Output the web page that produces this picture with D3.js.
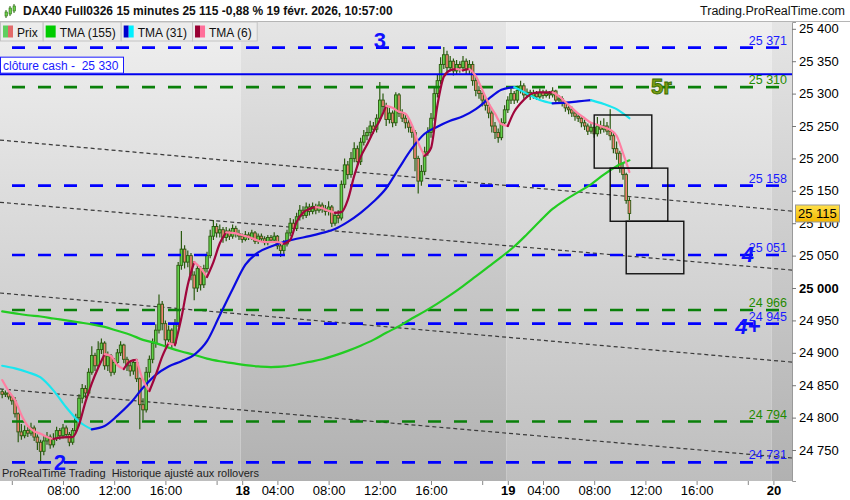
<!DOCTYPE html>
<html>
<head>
<meta charset="utf-8">
<script src="https://cdn.jsdelivr.net/npm/d3@7"></script>
<style>
  body { margin: 0; background: #fff; }
  svg { display: block; font-family: "Liberation Sans", Arial, sans-serif; }
  text { white-space: pre; }
</style>
</head>
<body>
<svg width="850" height="500"></svg>
<script>
// Sessions de 15 minutes (01:15 - 21:45), la 1re commence en cours de journée
const sessions = [
  {day: "17", from: "03:15", to: "21:45"},
  {day: "18", from: "01:15", to: "21:45"},
  {day: "19", from: "01:15", to: "21:45"},
  {day: "20", from: "01:15", to: "02:30"}
];

const firstOpen = 24840;
// clôtures, une par bougie depuis le 17 03:15
const closes = [
  24836,24838,24832,24826,24806,24778,24772,24780,24776,24784,
  24770,24762,24748,24764,24770,24758,24768,24780,24772,24784,
  24774,24762,24780,24800,24830,24845,24838,24870,24896,24880,
  24905,24915,24880,24895,24870,24885,24900,24912,24890,24880,
  24872,24885,24860,24820,24812,24870,24890,24915,24935,24975,
  24945,24920,24935,24915,24945,25035,25060,25040,25050,25020,
  25000,25030,25005,25030,25050,25080,25095,25085,25090,25078,
  25088,25080,25092,25084,25080,
  // 18
  25075,25082,25078,25085,25072,25080,25076,25070,25078,25074,
  25080,25065,25058,25068,25085,25100,25092,25110,25120,25112,
  25125,25118,25126,25120,25128,25122,25118,25125,25100,25112,
  25108,25160,25190,25175,25200,25215,25195,25225,25235,25240,
  25250,25245,25262,25290,25280,25260,25270,25255,25298,25270,
  25262,25255,25248,25240,25200,25165,25180,25210,25240,25262,
  25300,25320,25345,25360,25340,25350,25335,25345,25340,25350,
  25338,25345,25320,25305,25300,25290,25282,25270,25250,25240,
  25232,25255,25275,
  // 19
  25290,25300,25290,25305,25312,25298,25302,25296,25300,25295,
  25302,25297,25300,25298,25304,25290,25292,25285,25278,25275,
  25270,25265,25262,25255,25250,25242,25248,25238,25250,25245,
  25250,25242,25235,25215,25208,25185,25175,25135,25115
];
const highs = [
  24844,24842,24841,24834,24832,24808,24790,24788,24786,24792,
  24788,24774,24766,24772,24778,24774,24776,24786,24784,24790,
  24788,24778,24784,24806,24836,24852,24850,24876,24910,24900,
  24918,24922,24918,24902,24898,24892,24906,24918,24914,24894,
  24886,24890,24888,24862,24830,24878,24896,24922,24944,24990,
  24980,24950,24942,24938,24952,25040,25088,25066,25058,25054,
  25026,25036,25034,25036,25056,25090,25105,25100,25098,25094,
  25094,25092,25098,25096,25090,
  25084,25088,25086,25090,25088,25084,25084,25080,25082,25082,
  25086,25082,25068,25074,25090,25108,25106,25116,25128,25126,
  25132,25130,25132,25130,25134,25132,25128,25134,25128,25118,
  25120,25166,25200,25196,25210,25225,25220,25232,25244,25248,
  25258,25256,25268,25318,25300,25286,25278,25274,25302,25301,
  25276,25268,25262,25252,25244,25204,25190,25218,25248,25270,
  25310,25330,25356,25372,25366,25358,25354,25352,25350,25358,
  25354,25352,25350,25326,25312,25304,25296,25286,25274,25256,
  25246,25262,25282,
  25296,25308,25304,25312,25320,25316,25308,25306,25306,25304,
  25308,25306,25306,25304,25310,25306,25298,25296,25288,25282,
  25280,25274,25270,25266,25260,25254,25256,25252,25264,25258,
  25262,25256,25276,25240,25226,25212,25192,25178,25140
];
const lows = [
  24830,24832,24828,24820,24800,24762,24766,24768,24770,24772,
  24764,24750,24730,24742,24758,24752,24754,24764,24766,24768,
  24768,24756,24758,24776,24796,24822,24830,24834,24866,24872,
  24876,24898,24874,24872,24864,24866,24880,24895,24884,24872,
  24864,24866,24855,24782,24796,24808,24862,24884,24908,24930,
  24935,24910,24912,24906,24910,24940,25028,25030,25032,25012,
  24981,24994,24996,25000,25024,25046,25074,25078,25078,25070,
  25072,25074,25076,25078,25074,
  25070,25072,25074,25074,25068,25068,25072,25066,25066,25070,
  25070,25060,25048,25052,25064,25080,25086,25088,25104,25106,
  25108,25112,25114,25114,25116,25116,25112,25112,25094,25096,
  25100,25104,25154,25168,25170,25194,25188,25190,25220,25228,
  25234,25238,25240,25258,25272,25250,25254,25248,25250,25264,
  25256,25246,25240,25232,25180,25146,25158,25174,25204,25232,
  25258,25294,25314,25338,25332,25334,25328,25330,25332,25334,
  25330,25330,25312,25296,25292,25280,25274,25262,25240,25230,
  25224,25228,25250,
  25270,25284,25284,25286,25300,25292,25294,25290,25292,25290,
  25292,25292,25294,25292,25294,25286,25284,25280,25272,25268,
  25264,25258,25256,25248,25244,25236,25238,25232,25234,25238,
  25240,25236,25228,25208,25198,25178,25167,25130,25105
];

// moyennes mobiles (TMA155 et TMA31 toutes les 4 bougies, TMA6 toutes les 2)
const tma155 = [
  24964,24961,24958,24956,24953,24950,24947,24944,24940,24934,
  24928,24920,24915,24908,24902,24897,24891,24887,24884,24881,
  24879,24878,24879,24882,24886,24890,24896,24903,24911,24920,
  24931,24941,24953,24964,24976,24989,25003,25018,25033,25048,
  25064,25083,25103,25122,25136,25148,25160,25175,25188,25197
];
const tma31 = [
  24880,24876,24870,24862,24842,24816,24794,24782,24787,24803,
  24822,24846,24866,24879,24887,24897,24918,24958,24998,25036,
  25055,25064,25071,25076,25080,25085,25091,25102,25116,25133,
  25154,25185,25215,25238,25249,25258,25265,25276,25292,25306,
  25310,25300,25290,25285,25286,25288,25290,25284,25276,25262
];
const tma6 = [
  24858,24841,24827,24804,24787,24779,24775,24770,24767,24769,
  24770,24770,24789,24824,24853,24877,24898,24895,24881,24875,
  24887,24889,24858,24841,24866,24894,24915,24912,24954,25005,
  25040,25031,25017,25040,25069,25086,25085,25083,25080,25077,
  25073,25071,25071,25071,25068,25074,25102,25116,25122,25125,
  25123,25119,25116,25117,25136,25173,25202,25221,25241,25259,
  25281,25278,25272,25269,25252,25224,25204,25216,25282,25326,
  25336,25338,25336,25338,25327,25306,25285,25269,25253,25250,
  25272,25285,25295,25301,25302,25302,25302,25296,25287,25278,
  25269,25262,25255,25252,25248,25244,25235,25208,25179
];

// niveaux horizontaux
const levelValues = [25371, 25330, 25310, 25158, 25051, 24966, 24945, 24794, 24731];
const levelKinds  = ["blue", "cash", "green", "blue", "blue", "green", "blue", "green", "blue"];

// droites de tendance pointillées (début / fin)
const trendFrom = ["17 03:15", 25228, 25132, 24992, 24844];
const trendTo   = ["20 02:30", 25119, 25028, 24886, 24738];

// rectangles de projection
const boxFrom   = ["19 08:00", "19 09:15", "19 10:30"];
const boxTo     = ["19 12:30", "19 13:45", "19 15:00"];
const boxTop    = [25267, 25185, 25103];
const boxBottom = [25185, 25103, 25022];

// étiquettes de vagues
const waveText  = ["3", "5r", "4", "4+", "2"];
const waveTime  = ["18 12:00", "19 13:15", "19 20:00", "19 20:00", "17 07:45"];
const waveValue = [25371, 25299, 25040, 24929, 24719];

const yTicks = [24750, 24800, 24850, 24900, 24950, 25000, 25050, 25100, 25150, 25200, 25250, 25300, 25350, 25400];
const xTicks = ["17 04:00","17 08:00","17 12:00","17 16:00","17 20:00",
                "18 01:15","18 04:00","18 08:00","18 12:00","18 16:00","18 20:00",
                "19 01:15","19 04:00","19 08:00","19 12:00","19 16:00","19 20:00","20 01:15"];
const xTickLabels = ["","08:00","12:00","16:00","",
                     "18","04:00","08:00","12:00","16:00","",
                     "19","04:00","08:00","12:00","16:00","","20"];

const svg = d3.select("svg"),
      width = +svg.attr("width"),
      height = +svg.attr("height");

const plot = {left: 0, right: 792, top: 22, bottom: 481};

// liste des créneaux de 15 minutes
const slotKeys = [];
const sessionRange = [];
sessions.forEach(s => {
  let [h, m] = s.from.split(":").map(Number);
  const [eh, em] = s.to.split(":").map(Number);
  const start = slotKeys.length;
  while (h * 60 + m <= eh * 60 + em) {
    slotKeys.push(s.day + " " + String(h).padStart(2, "0") + ":" + String(m).padStart(2, "0"));
    m += 15;
    if (m >= 60) { m -= 60; h += 1; }
  }
  sessionRange.push([start, slotKeys.length - 1]);
});
const slotIndex = new Map(slotKeys.map((k, i) => [k, i]));

const x = d3.scaleLinear()
    .domain([-0.6875, slotKeys.length - 0.1875])
    .range([plot.left, plot.right]);
const y = d3.scaleLinear()
    .domain([24702.2, 25410.5])
    .range([plot.bottom, plot.top]);

const fmt = v => d3.format(",")(v).replace(/,/g, " ");

// dégradés de fond
const defs = svg.append("defs");
function grad(id, c1, c2) {
  const g = defs.append("linearGradient").attr("id", id)
      .attr("x1", 0).attr("y1", 0).attr("x2", 0).attr("y2", 1);
  g.append("stop").attr("offset", "0%").attr("stop-color", c1);
  g.append("stop").attr("offset", "100%").attr("stop-color", c2);
}
grad("bgLight", "#efefef", "#bebebe");
grad("bgDark", "#e5e5e5", "#b1b1b1");
grad("lastGrad", "#ffe04a", "#f2b600");

svg.append("rect").attr("width", width).attr("height", height).attr("fill", "#fff");

svg.append("clipPath").attr("id", "plotClip")
  .append("rect")
    .attr("x", plot.left).attr("y", plot.top)
    .attr("width", plot.right - plot.left).attr("height", plot.bottom - plot.top);

const chart = svg.append("g").attr("clip-path", "url(#plotClip)");

// fond par journée
chart.selectAll("rect.day")
  .data(sessionRange)
  .enter().append("rect")
    .attr("class", "day")
    .attr("x", (d, i) => i === 0 ? plot.left : x(d[0] - 0.5))
    .attr("y", plot.top)
    .attr("width", (d, i) => (i === sessionRange.length - 1 ? plot.right : x(d[1] + 0.5)) - (i === 0 ? plot.left : x(d[0] - 0.5)))
    .attr("height", plot.bottom - plot.top)
    .attr("fill", (d, i) => i % 2 ? "url(#bgDark)" : "url(#bgLight)");

// droites pointillées prolongées jusqu'aux bords
trendFrom.slice(1).forEach((v1, i) => {
  const i1 = slotIndex.get(trendFrom[0]), i2 = slotIndex.get(trendTo[0]);
  const v2 = trendTo[i + 1];
  const slope = (y(v2) - y(v1)) / (x(i2) - x(i1));
  chart.append("line")
    .attr("x1", plot.left).attr("y1", y(v1) + (plot.left - x(i1)) * slope)
    .attr("x2", plot.right).attr("y2", y(v1) + (plot.right - x(i1)) * slope)
    .attr("stroke", "#3a3a3a").attr("stroke-width", 1.2)
    .attr("stroke-dasharray", "4,3");
});

// bougies
const candles = closes.map((c, i) => ({
  i: i, o: i === 0 ? firstOpen : closes[i - 1], h: highs[i], l: lows[i], c: c
}));
const candleG = chart.append("g");
candleG.selectAll("line")
  .data(candles)
  .enter().append("line")
    .attr("x1", d => x(d.i)).attr("x2", d => x(d.i))
    .attr("y1", d => y(d.h)).attr("y2", d => y(d.l))
    .attr("stroke", "#2b5a10").attr("stroke-width", 1.2);
candleG.selectAll("rect")
  .data(candles)
  .enter().append("rect")
    .attr("x", d => x(d.i) - 1.3)
    .attr("width", 2.6)
    .attr("y", d => y(Math.max(d.o, d.c)))
    .attr("height", d => Math.max(1, Math.abs(y(d.o) - y(d.c))))
    .attr("fill", d => d.c >= d.o ? "#62d24a" : "#f08272")
    .attr("stroke", "#2b5a10").attr("stroke-width", 0.9);

// niveaux horizontaux
const levelColor = {blue: "#0000ff", cash: "#0000ee", green: "#0a800a"};
levelValues.forEach((v, i) => {
  const k = levelKinds[i];
  chart.append("line")
    .attr("x1", plot.left).attr("x2", plot.right)
    .attr("y1", y(v)).attr("y2", y(v))
    .attr("stroke", levelColor[k])
    .attr("stroke-width", k === "cash" ? 2 : 2.6)
    .attr("stroke-dasharray", k === "cash" ? null : "13,13")
    .attr("stroke-dashoffset", 14);
  if (k !== "cash") {
    svg.append("text")
      .attr("x", plot.right - 5).attr("y", y(v) - 3)
      .attr("text-anchor", "end")
      .attr("font-size", 12.5)
      .attr("fill", k === "green" ? "#1f8a00" : "#1a1aff")
      .text(fmt(v));
  }
});

// moyennes mobiles, couleur selon la pente
function drawTrend(values, step, upColor, downColor, w) {
  const dirs = [];
  for (let j = 0; j < values.length - 1; j++) {
    const d = values[j + 1] - values[j];
    dirs.push(d > 0 ? 1 : d < 0 ? -1 : (dirs.length ? dirs[dirs.length - 1] : 1));
  }
  const line = d3.line()
      .x(d => x(d[0] * step))
      .y(d => y(d[1]))
      .curve(d3.curveMonotoneX);
  let a = 0;
  for (let j = 1; j <= dirs.length; j++) {
    if (j === dirs.length || dirs[j] !== dirs[a]) {
      const pts = d3.range(a, j + 1).map(k => [k, values[k]]);
      chart.append("path")
        .attr("d", line(pts))
        .attr("fill", "none")
        .attr("stroke", dirs[a] > 0 ? upColor : downColor)
        .attr("stroke-width", w)
        .attr("stroke-linecap", "round");
      a = j;
    }
  }
}
drawTrend(tma155, 4, "#22cc22", "#22cc22", 2.2);
drawTrend(tma31, 4, "#0a0ae0", "#19e6ef", 2.2);
drawTrend(tma6, 2, "#a0063c", "#ff7fa2", 2.2);

// rectangles
boxFrom.forEach((t, i) => {
  const x1 = x(slotIndex.get(t)), x2 = x(slotIndex.get(boxTo[i]));
  chart.append("rect")
    .attr("x", x1).attr("y", y(boxTop[i]))
    .attr("width", x2 - x1).attr("height", y(boxBottom[i]) - y(boxTop[i]))
    .attr("fill", "none").attr("stroke", "#111").attr("stroke-width", 1.4);
});

// étiquettes de vagues
waveText.forEach((t, i) => {
  const isR = t === "5r";
  chart.append("text")
    .attr("x", x(slotIndex.get(waveTime[i])))
    .attr("y", y(waveValue[i]))
    .attr("text-anchor", "middle")
    .attr("font-size", 22)
    .attr("font-weight", "bold")
    .attr("font-style", t.startsWith("4") ? "italic" : null)
    .attr("fill", isR ? "#7d9b12" : "#1010ff")
    .attr("stroke", isR ? "#2f6b00" : null)
    .attr("stroke-width", isR ? 0.8 : null)
    .text(t);
});

// clôture cash
const cashY = y(levelValues[1]);
svg.append("rect")
  .attr("x", 0.5).attr("y", cashY - 17)
  .attr("width", 123).attr("height", 16)
  .attr("fill", "#fff").attr("stroke", "#1a1aff").attr("stroke-width", 1);
svg.append("text")
  .attr("x", 3).attr("y", cashY - 4.5)
  .attr("font-size", 12).attr("fill", "#1a1aff")
  .text("clôture cash -  " + fmt(levelValues[1]));

svg.append("text")
  .attr("x", 2).attr("y", plot.bottom - 4)
  .attr("font-size", 11).attr("fill", "#222")
  .text("ProRealTime Trading  Historique ajusté aux rollovers");

// axe des prix
const yAxis = svg.append("g")
    .attr("transform", `translate(${plot.right},0)`)
    .call(d3.axisRight(y).tickValues(yTicks).tickSize(4).tickFormat(fmt));
yAxis.select(".domain").attr("stroke", "#9a9a9a");
yAxis.selectAll(".tick line").attr("stroke", "#777");
yAxis.selectAll(".tick text")
    .attr("font-size", 13)
    .attr("font-family", "Liberation Sans, Arial, sans-serif")
    .attr("fill", "#000")
    .attr("font-weight", d => d % 1000 === 0 ? "bold" : null);

// axe du temps
const xAxis = svg.append("g")
    .attr("transform", `translate(0,${plot.bottom})`)
    .call(d3.axisBottom(x)
      .tickValues(xTicks.map(k => slotIndex.get(k)))
      .tickSize(4)
      .tickFormat((d, i) => xTickLabels[i]));
xAxis.select(".domain").remove();
xAxis.selectAll(".tick line").attr("stroke", "#888");
xAxis.selectAll(".tick text")
    .attr("font-size", 13)
    .attr("font-family", "Liberation Sans, Arial, sans-serif")
    .attr("fill", "#000")
    .attr("y", 5)
    .attr("font-weight", (d, i) => xTickLabels[i].length <= 2 ? "bold" : null);

// dernier cours
const last = closes[closes.length - 1];
svg.append("rect")
  .attr("x", 795.5).attr("y", y(last) - 8.5)
  .attr("width", 44).attr("height", 17)
  .attr("fill", "url(#lastGrad)").attr("stroke", "#999");
svg.append("text")
  .attr("x", 798).attr("y", y(last) + 4.5)
  .attr("font-size", 13).attr("fill", "#000")
  .text(fmt(last));

// en-tête
svg.append("rect").attr("width", width).attr("height", plot.top).attr("fill", "#fff");
svg.append("line")
  .attr("x1", 0).attr("x2", width).attr("y1", plot.top - 0.5).attr("y2", plot.top - 0.5)
  .attr("stroke", "#b5b5b5");
const icon = svg.append("g").attr("transform", "translate(4,4)");
[[1, 6, 11], [5, 2, 9], [9, 0, 6]].forEach(([ix, t, b]) => {
  icon.append("line").attr("x1", ix + 1).attr("x2", ix + 1).attr("y1", t).attr("y2", b + 3)
    .attr("stroke", "#2b6a10");
  icon.append("rect").attr("x", ix).attr("y", t + 2).attr("width", 2.5).attr("height", b - t - 1)
    .attr("fill", "#6cd04a").attr("stroke", "#2b6a10").attr("stroke-width", 0.6);
});
svg.append("text")
  .attr("x", 23).attr("y", 15)
  .attr("font-size", 12).attr("font-weight", "bold").attr("fill", "#111")
  .text("DAX40 Full0326 15 minutes " + fmt(last) + " -0,88 % 19 févr. 2026, 10:57:00");
svg.append("text")
  .attr("x", width - 5).attr("y", 15)
  .attr("text-anchor", "end")
  .attr("font-size", 12.5).attr("fill", "#111")
  .text("Trading.ProRealTime.com");

// légende
const legendItems = [
  {label: "Prix", colors: ["#5fcf5f", "#e26a6a"]},
  {label: "TMA (155)", colors: ["#00cc00"]},
  {label: "TMA (31)", colors: ["#0000cc", "#00f0ff"]},
  {label: "TMA (6)", colors: ["#990033", "#ff6f9a"]}
];
let lx = 0;
legendItems.forEach(item => {
  const g = svg.append("g").attr("transform", `translate(${lx},${plot.top})`);
  const bg = g.append("rect").attr("y", 0).attr("height", 19)
      .attr("fill", "#ececec").attr("stroke", "#c4c4c4");
  item.colors.forEach((c, j) => {
    const w = 10 / item.colors.length;
    g.append("rect").attr("x", 3 + j * w).attr("y", 3.5).attr("width", w).attr("height", 12).attr("fill", c);
  });
  const t = g.append("text").attr("x", 17).attr("y", 14.5)
      .attr("font-size", 12).attr("fill", "#111").text(item.label);
  const w = 17 + t.node().getComputedTextLength() + 5;
  bg.attr("x", 0.5).attr("width", w);
  lx += w;
});
</script>
</body>
</html>
